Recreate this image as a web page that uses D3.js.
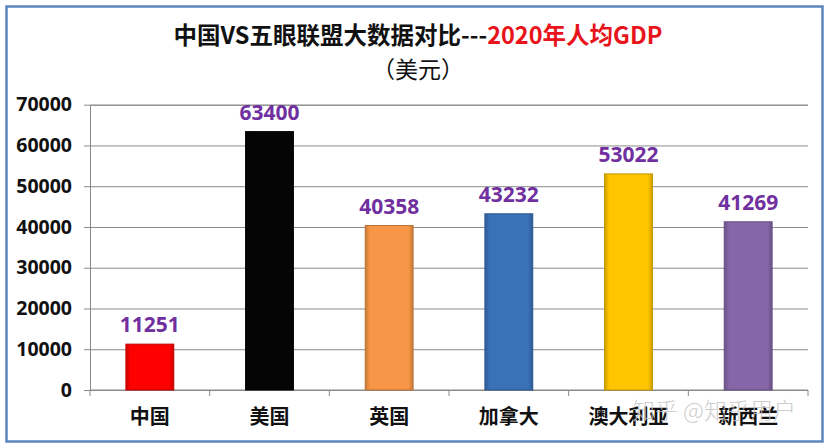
<!DOCTYPE html>
<html>
<head>
<meta charset="utf-8">
<script src="https://cdn.jsdelivr.net/npm/d3@7"></script>
<style>
  body { margin: 0; background: #fff; }
  text { font-family: "Open Sans", "Noto Sans CJK SC", sans-serif; }
</style>
</head>
<body>
<div id="chart"></div>
<script>
// data
var countries = ["中国", "美国", "英国", "加拿大", "澳大利亚", "新西兰"];
var gdp = [11251, 63400, 40358, 43232, 53022, 41269];
var barColors = ["#ff0000", "#050505", "#f79646", "#3a72b8", "#ffc600", "#8566a8"];
var yTicks = [0, 10000, 20000, 30000, 40000, 50000, 60000, 70000];

var width = 834, height = 448;
var plot = { left: 90, right: 808, top: 104.7, bottom: 390 };

var svg = d3.select("#chart").append("svg")
    .attr("width", width)
    .attr("height", height);

var defs = svg.append("defs");

// outer frame
svg.append("rect")
    .attr("x", 6.5).attr("y", 6.5)
    .attr("width", 816).attr("height", 435)
    .attr("fill", "#fff")
    .attr("stroke", "#5b84bf")
    .attr("stroke-width", 2.5);

// title
var title = svg.append("text")
    .attr("x", 418).attr("y", 44)
    .attr("text-anchor", "middle")
    .style("font-family", "'Noto Sans CJK SC', sans-serif")
    .style("font-size", "23.5px")
    .style("font-weight", "bold");
title.append("tspan").attr("fill", "#111").text("中国VS五眼联盟大数据对比---");
title.append("tspan").attr("fill", "#e8141c").text("2020年人均GDP");

svg.append("text")
    .attr("x", 418).attr("y", 78)
    .attr("text-anchor", "middle")
    .style("font-family", "'Noto Sans CJK SC', sans-serif")
    .style("font-size", "23px")
    .attr("fill", "#111")
    .text("（美元）");

var x = d3.scaleBand()
    .domain(countries)
    .range([plot.left, plot.right])
    .paddingInner(0.6)
    .paddingOuter(0.3);

var y = d3.scaleLinear()
    .domain([0, 70000])
    .range([plot.bottom, plot.top]);

// gridlines + y labels
var yAxis = svg.append("g")
    .attr("transform", "translate(" + plot.left + ",0)")
    .call(d3.axisLeft(y).tickValues(yTicks).tickFormat(d3.format("d"))
        .tickSize(-(plot.right - plot.left)).tickPadding(18));
yAxis.select(".domain").attr("stroke", "#8a8a8a");
yAxis.selectAll(".tick line").attr("stroke", "#8a8a8a").attr("x1", -6);
yAxis.selectAll(".tick text")
    .attr("fill", "#111")
    .style("font-size", "19.5px")
    .style("font-weight", "bold")
    .style("font-family", "'Open Sans', sans-serif");

// x axis with ticks between categories
var xAxis = svg.append("g")
    .attr("transform", "translate(0," + plot.bottom + ")");
xAxis.append("line")
    .attr("x1", plot.left).attr("x2", plot.right)
    .attr("stroke", "#8a8a8a");
xAxis.selectAll("line.sep")
    .data(d3.range(countries.length + 1))
    .enter().append("line")
    .attr("class", "sep")
    .attr("x1", function(d) { return plot.left + d * (plot.right - plot.left) / countries.length; })
    .attr("x2", function(d) { return plot.left + d * (plot.right - plot.left) / countries.length; })
    .attr("y1", 0).attr("y2", 6)
    .attr("stroke", "#8a8a8a");
xAxis.selectAll("text")
    .data(countries)
    .enter().append("text")
    .attr("x", function(d) { return x(d) + x.bandwidth() / 2; })
    .attr("y", 34)
    .attr("text-anchor", "middle")
    .attr("fill", "#111")
    .style("font-family", "'Noto Sans CJK SC', sans-serif")
    .style("font-size", "20px")
    .style("font-weight", "bold")
    .text(function(d) { return d; });

// horizontal shading so bars look bevelled
barColors.forEach(function(c, i) {
    var g = defs.append("linearGradient")
        .attr("id", "bar" + i)
        .attr("x1", "0").attr("x2", "1").attr("y1", "0").attr("y2", "0");
    var dark = d3.color(c).darker(0.6);
    g.append("stop").attr("offset", "0%").attr("stop-color", dark);
    g.append("stop").attr("offset", "10%").attr("stop-color", c);
    g.append("stop").attr("offset", "90%").attr("stop-color", c);
    g.append("stop").attr("offset", "100%").attr("stop-color", dark);
});

svg.append("g").selectAll("rect")
    .data(gdp)
    .enter().append("rect")
    .attr("x", function(d, i) { return x(countries[i]); })
    .attr("y", function(d) { return y(d); })
    .attr("width", x.bandwidth())
    .attr("height", function(d) { return y(0) - y(d); })
    .attr("fill", function(d, i) { return "url(#bar" + i + ")"; })
    .attr("stroke", function(d, i) { return d3.color(barColors[i]).darker(0.8); })
    .attr("stroke-width", 1);

// value labels
svg.append("g").selectAll("text")
    .data(gdp)
    .enter().append("text")
    .attr("x", function(d, i) { return x(countries[i]) + x.bandwidth() / 2; })
    .attr("y", function(d) { return y(d) - 12; })
    .attr("text-anchor", "middle")
    .attr("fill", "#7030a0")
    .style("font-size", "21px")
    .style("font-weight", "bold")
    .text(function(d) { return d; });

// watermark (sits over the last labels, as in the source image)
svg.append("text")
    .attr("x", 632).attr("y", 419)
    .attr("fill", "#c4c4c4")
    .attr("fill-opacity", 0.85)
    .style("font-family", "'Noto Sans CJK SC', sans-serif")
    .style("font-size", "23px")
    .style("font-weight", "300")
    .text("知乎 @知乎用户");
</script>
</body>
</html>
